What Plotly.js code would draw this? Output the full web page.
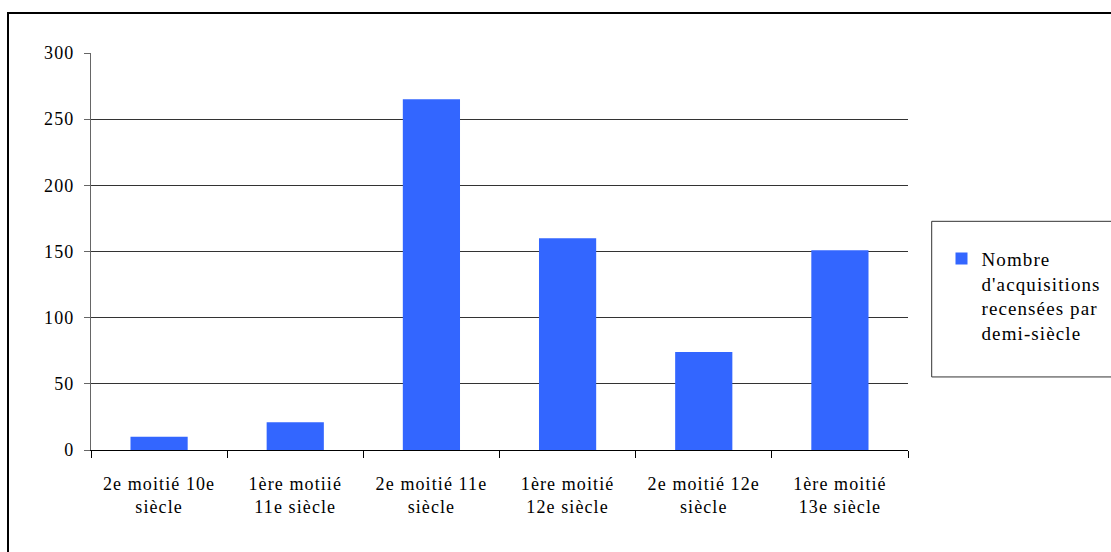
<!DOCTYPE html>
<html>
<head>
<meta charset="utf-8">
<script src="https://cdn.plot.ly/plotly-3.0.1.min.js"></script>
<style>
html,body{margin:0;padding:0;width:1111px;height:552px;overflow:hidden;background:#fff;}
#frame{position:absolute;left:7px;top:12px;width:1300px;height:700px;border:2px solid #000;box-sizing:border-box;}
#chart{position:absolute;left:0;top:0;width:1111px;height:552px;}
text{letter-spacing:1.1px;}
</style>
</head>
<body>
<div id="frame"></div>
<div id="chart"></div>
<script>
const categories = [
  "2e moitié 10e<br>siècle",
  "1ère motiié<br>11e siècle",
  "2e moitié 11e<br>siècle",
  "1ère moitié<br>12e siècle",
  "2e moitié 12e<br>siècle",
  "1ère moitié<br>13e siècle"
];
const acquisitions = [10, 21, 265, 160, 74, 151];
const seriesName = "Nombre<br>d'acquisitions<br>recensées par<br>demi-siècle";
const yTicks = [0, 50, 100, 150, 200, 250, 300];

const font = {family: "Liberation Serif", size: 18, color: "#000"};
const legendFont = {family: "Liberation Serif", size: 19, color: "#000"};

const data = [{
  type: "bar",
  x: categories,
  y: acquisitions,
  name: seriesName,
  marker: {color: "#3366FF", line: {width: 0}},
  showlegend: true
}];

const layout = {
  width: 1111, height: 552,
  margin: {l: 91, r: 203, t: 53, b: 102, autoexpand: false},
  paper_bgcolor: "rgba(0,0,0,0)",
  plot_bgcolor: "rgba(0,0,0,0)",
  font: font,
  bargap: 0.58,
  xaxis: {
    type: "category",
    showline: true, linecolor: "#000", linewidth: 1,
    ticks: "outside", tickson: "boundaries", ticklen: 7, tickcolor: "#000",
    showgrid: false, zeroline: false,
    tickfont: font, ticklabelstandoff: 17
  },
  yaxis: {
    range: [0, 300], tickvals: yTicks, ticktext: yTicks.map(String),
    showline: true, linecolor: "#666", linewidth: 1,
    ticks: "outside", ticklen: 6, tickcolor: "#666",
    showgrid: true, gridcolor: "#333", gridwidth: 1,
    zeroline: false,
    tickfont: font, ticklabelstandoff: 6
  },
  showlegend: true,
  legend: {
    x: 1.041, xanchor: "left", y: 0.53, yanchor: "top",
    bgcolor: "rgba(0,0,0,0)", borderwidth: 0,
    valign: "top", font: legendFont, tracegroupgap: 0
  },
  shapes: [{
    type: "rect", xref: "paper", yref: "paper",
    x0: 1.029, x1: 1.3, y0: 0.184, y1: 0.576,
    line: {color: "#333", width: 1}, fillcolor: "rgba(0,0,0,0)"
  }]
};

Plotly.newPlot("chart", data, layout, {displayModeBar: false, staticPlot: true});
</script>
</body>
</html>
